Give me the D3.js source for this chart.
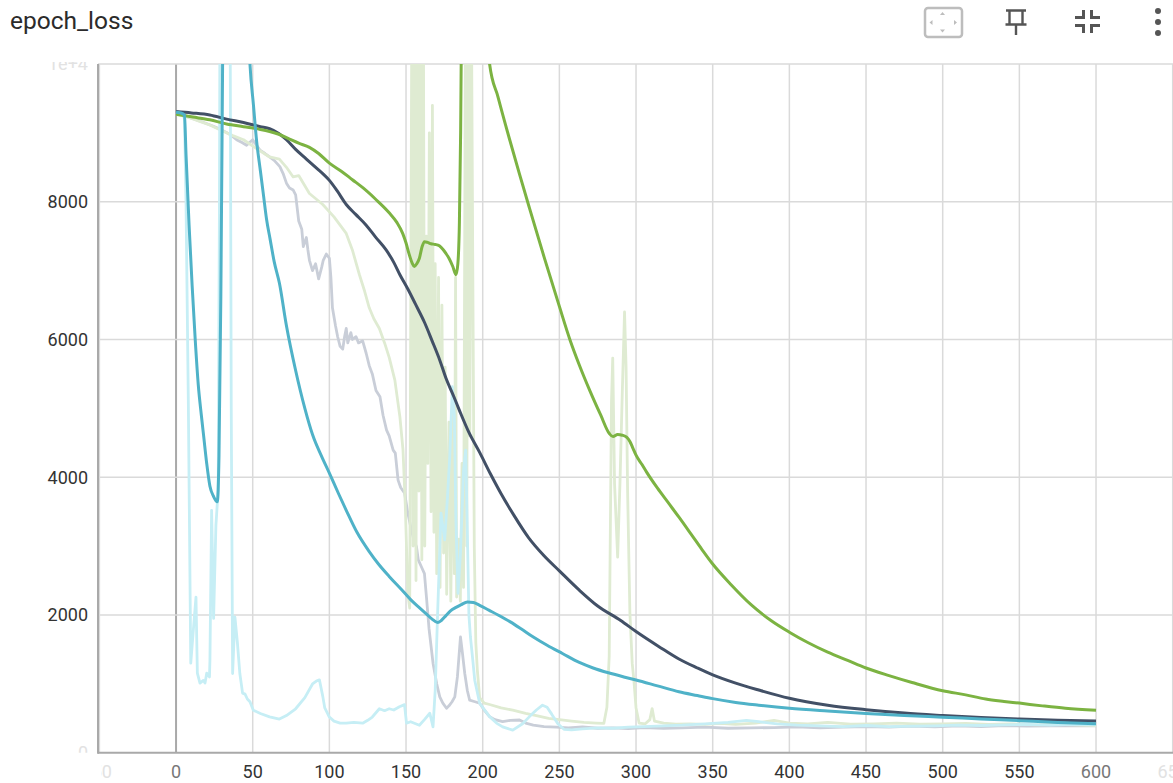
<!DOCTYPE html>
<html>
<head>
<meta charset="utf-8">
<script src="https://cdn.jsdelivr.net/npm/d3@7/dist/d3.min.js"></script>
<style>
  body { margin: 0; background: #fff; font-family: Roboto, "Noto Sans", sans-serif; }
</style>
</head>
<body>
<div id="chart"></div>
<script>
// tick values / labels
var xTicks = [-50, 0, 50, 100, 150, 200, 250, 300, 350, 400, 450, 500, 550, 600, 650];
var yTicks = [0, 2000, 4000, 6000, 8000, 10000];
var yTickLabels = ["0", "2000", "4000", "6000", "8000", "1e+4"];

// smoothed runs  [step, loss]
var navySmooth = [[0,9310],[10,9290],[22,9260],[33,9200],[44,9150],[55,9090],[61,9060],[67,8990],[72,8900],[78,8760],[85,8620],[92,8480],[96,8400],[100,8310],[105,8160],[111,7960],[117,7820],[124,7660],[130,7490],[137,7300],[142,7120],[146,6940],[151,6740],[156,6520],[162,6250],[167,5980],[172,5700],[176,5440],[181,5180],[185,4960],[191,4650],[198,4360],[205,4050],[212,3760],[220,3460],[230,3120],[240,2860],[250,2640],[263,2360],[275,2130],[290,1920],[300,1760],[315,1540],[328,1360],[340,1230],[350,1130],[365,1010],[380,910],[400,790],[425,690],[450,625],[475,575],[500,540],[525,510],[550,488],[575,472],[600,462]];

var tealSmooth = [[0,9300],[3,9290],[5.5,9260],[6.5,8690],[8.5,7660],[10.5,6780],[12.5,6000],[14.5,5340],[16.5,4900],[18,4600],[20,4200],[22.1,3870],[24.5,3720],[26.9,3643],[28,4300],[29.2,6600],[30.3,9800],[31.5,13500],[34,16000],[38,15500],[42,13500],[46,11200],[48.2,10000],[50.5,9400],[52.6,8870],[55,8450],[57,8100],[59,7750],[61.4,7450],[64,7130],[67.4,6820],[72,6200],[78,5550],[84,5000],[89,4620],[95,4300],[100,4060],[106,3760],[111,3520],[118,3200],[126,2920],[132,2740],[139,2560],[147,2370],[154,2200],[159,2100],[163,2020],[167,1940],[170.6,1890],[173,1920],[176,1990],[179,2060],[182.6,2110],[186,2150],[190,2190],[194,2180],[198,2140],[204,2070],[210,2000],[218,1900],[225,1800],[233,1680],[242,1560],[252,1440],[263,1310],[272,1230],[282,1160],[292,1100],[300,1055],[314,970],[328,885],[340,830],[350,785],[365,730],[380,690],[400,645],[425,605],[450,570],[475,540],[500,515],[525,490],[550,465],[575,440],[600,420]];

var greenSmooth = [[0,9270],[11,9230],[22,9190],[33,9130],[44,9090],[55,9050],[61,9020],[67,8980],[74,8910],[80,8850],[87,8790],[93,8700],[100,8560],[108,8440],[115,8320],[122,8200],[130,8040],[139,7840],[144,7700],[147.8,7540],[150,7400],[152,7240],[154,7110],[155.4,7060],[157,7100],[158.7,7180],[160.5,7350],[162,7420],[164,7410],[166.3,7390],[169,7380],[171.7,7360],[174,7310],[176,7250],[178,7180],[180.5,7060],[182.6,6940],[183.8,7100],[184.8,7700],[185.6,9000],[186.3,11000],[188,15000],[192,14500],[198,12000],[204.5,10000],[210,9520],[217.6,8900],[224,8400],[230.6,7900],[240,7200],[250,6480],[257,5990],[263,5630],[270,5250],[277,4900],[282.7,4630],[285,4590],[288,4620],[291,4610],[294,4580],[296,4520],[298,4420],[300,4320],[304,4180],[307,4070],[314,3840],[321,3630],[328,3420],[336,3170],[343,2950],[350,2740],[362,2440],[375,2150],[388,1920],[400,1750],[412,1600],[425,1460],[438,1340],[450,1230],[465,1120],[480,1020],[500,900],[515,840],[528,780],[540,745],[550,720],[565,680],[580,645],[600,617]];

// raw runs  [step, loss]
var navyRaw = [[0,9300],[4,9280],[7,9235],[12,9200],[18,9150],[24,9100],[30,9040],[35,8980],[39.5,8900],[43,8860],[46,8820],[50,8900],[54.7,8750],[58,8700],[61,8650],[64,8600],[67.7,8510],[70,8400],[72,8270],[74,8200],[76.4,8170],[78,8100],[80,7720],[82,7600],[83,7350],[85,7480],[86,7300],[87,7150],[89,7000],[91,7100],[93,6880],[95,7050],[96,7150],[98,7240],[100,7180],[101,6900],[102,6460],[104,6200],[105.4,6040],[107,5900],[108.7,5860],[110,6050],[111,6160],[112,5950],[114,6100],[115,6000],[117.4,6040],[119,5950],[121.7,5980],[124,5800],[126,5620],[128,5500],[130.4,5260],[133,5168],[135,4900],[137.3,4684],[139,4600],[141.6,4394],[143,4350],[144.8,3958],[146.5,3850],[149.1,3768],[151,3500],[153.5,3232],[155,3100],[156.8,2990],[158,2800],[160,2700],[162,2600],[163.3,2263],[165,1800],[167.6,1300],[170,1000],[172,810],[174,720],[176.4,645],[178,680],[180,740],[181.8,810],[183.5,1100],[185.5,1680],[186.5,1500],[188.3,1150],[190,900],[191.5,762],[195,740],[198,718],[201,620],[204.5,524],[208,480],[213,450],[218,470],[224,475],[228,430],[233,400],[240,380],[248,370],[256,360],[265,375],[275,355],[285,360],[295,350],[305,365],[318,355],[330,360],[345,370],[360,355],[375,360],[390,365],[405,375],[420,360],[435,370],[450,380],[465,370],[480,385],[495,375],[510,390],[525,380],[540,395],[555,385],[570,390],[585,395],[600,390]];

var greenRaw = [[0,9270],[7,9235],[15,9170],[22,9115],[30,9030],[37,8960],[44,8900],[52,8780],[61,8650],[67.4,8620],[72,8500],[76.4,8360],[80,8380],[87,8120],[95.7,7960],[103,7780],[111,7540],[115,7300],[119.6,6940],[123,6700],[126,6460],[129,6300],[132.6,6160],[136,5950],[139,5740],[142.7,5410],[146,4877],[148,4400],[149.5,3600],[150.3,2990],[151.2,2300],[152.4,2100],[153,6000],[153.8,11000],[154.6,3000],[155.6,12000],[156.5,2500],[157.5,11500],[158.4,3800],[159.4,12000],[160.3,2800],[161.3,11000],[162.2,3000],[163.2,7500],[164.2,4200],[165.2,9000],[166.3,3500],[167.2,9400],[168.2,3200],[169,7100],[170,2600],[171.2,6900],[172.2,2400],[173.4,6500],[174.5,2900],[175.5,5600],[176.5,2300],[178,4800],[179.2,2200],[180.5,5000],[181.5,2600],[182.3,6900],[183,2260],[184.2,3100],[185.4,2200],[186.5,4200],[187.5,2400],[188.8,11000],[189.6,3000],[190.6,12000],[191.6,4600],[192.6,11000],[193.5,7180],[194.5,3000],[195.5,1600],[196.5,1200],[198,800],[201,720],[204.5,700],[212,650],[219.6,617],[228,570],[235,540],[243,500],[250,480],[258,460],[266,440],[274,430],[279,425],[281,660],[282.5,1400],[284,5100],[284.8,5730],[286,3900],[288,2840],[289.5,3900],[291,5200],[292.5,6400],[293.5,5600],[294.5,3800],[296,2030],[297.5,1300],[298.6,1050],[300,650],[302,430],[306,420],[309,480],[310.5,640],[312,460],[318,430],[326,415],[335,420],[345,410],[355,425],[365,410],[378,430],[390,470],[400,430],[412,420],[425,440],[440,415],[455,420],[470,430],[485,415],[500,420],[515,425],[530,410],[545,420],[560,405],[575,410],[590,400],[600,395]];

var cyanRaw = [[0,9300],[2.5,9290],[4.5,9270],[5.5,9200],[6.5,8000],[8,5120],[9.6,1300],[11,1700],[13,2260],[13.9,1155],[15.6,1010],[17.8,1050],[18.9,1010],[20,1155],[21.8,1100],[22.1,1343],[23.2,3520],[24.5,1950],[26,3300],[27.5,3820],[28.3,8000],[29,14000],[31,30000],[33,25000],[35,13000],[36,5000],[36.9,1150],[38.4,1970],[40,1600],[41.6,1150],[43.4,865],[45,850],[46.5,780],[48.2,740],[50.4,617],[55,570],[61,520],[67.4,488],[72,540],[78,638],[84,800],[89,998],[91.5,1040],[93.5,1058],[95.7,818],[97,650],[100,518],[103,458],[107,430],[111,428],[116,440],[121.7,428],[125,470],[128,518],[132.6,638],[136,610],[139,638],[142,620],[145.7,668],[149,698],[150.3,428],[153,450],[158.7,398],[162,480],[165.5,573],[167.6,375],[169,900],[170.6,2026],[172.8,3478],[175.2,3090],[177,3700],[178.5,4300],[180.2,5314],[181.5,4900],[182.5,3400],[183.9,2314],[185.5,2900],[187.5,4100],[188.9,4394],[190,3200],[191,2000],[192,1680],[193.5,1350],[194.8,1053],[198,718],[204.5,524],[209,430],[213,375],[219.6,327],[226,420],[230.5,524],[235,620],[239,690],[242,660],[245,560],[249,420],[253,340],[258,330],[265,345],[275,360],[285,355],[295,370],[305,380],[318,390],[330,400],[345,420],[360,440],[372,470],[380,450],[392,420],[405,400],[420,390],[435,380],[450,395],[465,380],[480,385],[495,390],[510,400],[525,395],[540,405],[555,410],[570,400],[585,410],[600,405]];

var W = 1173, H = 783;
var plot = {left: 98, right: 1173, top: 64, bottom: 752.7};

var svg = d3.select("#chart").append("svg")
    .attr("width", W)
    .attr("height", H)
    .style("display", "block");

// title
svg.append("text")
    .attr("x", 10)
    .attr("y", 29)
    .style("font-size", "24.5px")
    .style("fill", "#2b2b2b")
    .text("epoch_loss");

// scales
var x = d3.scaleLinear().domain([-50.9, 650.2]).range([plot.left, plot.right]);
var y = d3.scaleLinear().domain([0, 10000]).range([plot.bottom, plot.top]);

var defs = svg.append("defs");
defs.append("clipPath").attr("id", "plotClip")
  .append("rect")
    .attr("x", plot.left).attr("y", plot.top)
    .attr("width", plot.right - plot.left).attr("height", plot.bottom - plot.top);
defs.append("clipPath").attr("id", "xLabClip")
  .append("rect").attr("x", 101).attr("y", plot.bottom).attr("width", W - 101).attr("height", 40);
defs.append("clipPath").attr("id", "yLabClip")
  .append("rect").attr("x", 0).attr("y", 62).attr("width", plot.left).attr("height", plot.bottom - 62);

// grid
var grid = svg.append("g");
grid.selectAll(".vg").data(xTicks).enter().append("line")
    .attr("x1", function(d) { return x(d); })
    .attr("x2", function(d) { return x(d); })
    .attr("y1", plot.top).attr("y2", plot.bottom)
    .attr("stroke", function(d) { return d == 0 ? "#a9a9a9" : "#dadada"; })
    .attr("stroke-width", function(d) { return d == 0 ? 2 : 1.5; });
grid.selectAll(".hg").data(yTicks.filter(function(d) { return d > 0; })).enter().append("line")
    .attr("x1", plot.left).attr("x2", plot.right)
    .attr("y1", function(d) { return y(d); })
    .attr("y2", function(d) { return y(d); })
    .attr("stroke", "#dadada")
    .attr("stroke-width", 1.5);

// axis lines
svg.append("line")
    .attr("x1", plot.left).attr("x2", plot.left)
    .attr("y1", plot.top).attr("y2", plot.bottom + 1)
    .attr("stroke", "#a9a9a9").attr("stroke-width", 2);
svg.append("line")
    .attr("x1", plot.left).attr("x2", plot.right)
    .attr("y1", plot.bottom).attr("y2", plot.bottom)
    .attr("stroke", "#a9a9a9").attr("stroke-width", 2);

// tick labels
function xLabColor(d) {
  if (d < 0 || d > 600) return "#e2e2e2";
  if (d == 0 || d == 600) return "#777";
  return "#333";
}
svg.append("g").attr("clip-path", "url(#xLabClip)")
  .selectAll("text").data(xTicks).enter().append("text")
    .attr("x", function(d) { return x(d); })
    .attr("y", 778)
    .attr("text-anchor", "middle")
    .style("font-size", "18px")
    .style("fill", xLabColor)
    .text(function(d) { return d; });

svg.append("g").attr("clip-path", "url(#yLabClip)")
  .selectAll("text").data(yTicks).enter().append("text")
    .attr("x", 88)
    .attr("y", function(d) { return y(d); })
    .attr("dy", "0.35em")
    .attr("text-anchor", "end")
    .style("font-size", "18px")
    .style("fill", function(d) { return (d == 0 || d == 10000) ? "#e2e2e2" : "#333"; })
    .text(function(d, i) { return yTickLabels[i]; });

// lines
var rawLine = d3.line()
    .x(function(d) { return x(d[0]); })
    .y(function(d) { return y(d[1]); });
var smoothLine = d3.line()
    .curve(d3.curveMonotoneX)
    .x(function(d) { return x(d[0]); })
    .y(function(d) { return y(d[1]); });

var lines = svg.append("g").attr("clip-path", "url(#plotClip)");

var raws = [
  {data: navyRaw, color: "#c9ced8"},
  {data: greenRaw, color: "#dfebd2"},
  {data: cyanRaw, color: "#c6eef5"}
];
raws.forEach(function(r) {
  lines.append("path")
      .datum(r.data)
      .attr("d", rawLine)
      .attr("fill", "none")
      .attr("stroke", r.color)
      .attr("stroke-width", 2.8)
      .attr("stroke-linejoin", "round");
});

var smooths = [
  {data: navySmooth, color: "#425066"},
  {data: greenSmooth, color: "#7cb342"},
  {data: tealSmooth, color: "#4fb2c8"}
];
smooths.forEach(function(s) {
  lines.append("path")
      .datum(s.data)
      .attr("d", smoothLine)
      .attr("fill", "none")
      .attr("stroke", s.color)
      .attr("stroke-width", 3)
      .attr("stroke-linejoin", "round");
});

// toolbar icons
var icons = svg.append("g");
icons.append("rect")
    .attr("x", 925).attr("y", 8).attr("width", 37).attr("height", 29).attr("rx", 3)
    .attr("fill", "none").attr("stroke", "#bdbdbd").attr("stroke-width", 2.5);
var tri = [[942.5, 13.5, 0], [942.5, 31, 180], [931, 22.5, 270], [955.5, 22.5, 90]];
icons.selectAll(".tri").data(tri).enter().append("path")
    .attr("d", "M-2.5,1.5L0,-1.5L2.5,1.5Z")
    .attr("transform", function(d) { return "translate(" + d[0] + "," + d[1] + ") rotate(" + d[2] + ")"; })
    .attr("fill", "#bdbdbd");

// pin
icons.append("path")
    .attr("d", "M1006,10.5H1026 M1009.5,11V24 M1022.5,11V24 M1005.5,24.5H1026.5 M1016,24.5V35")
    .attr("fill", "none").attr("stroke", "#555").attr("stroke-width", 2.4);

// collapse
icons.append("path")
    .attr("d", "M1075,17.5H1083.5V10 M1100,17.5H1091.5V10 M1075,25.5H1083.5V33 M1100,25.5H1091.5V33")
    .attr("fill", "none").attr("stroke", "#555").attr("stroke-width", 3);

// kebab
icons.selectAll(".dot").data([11, 22, 33]).enter().append("circle")
    .attr("cx", 1158).attr("cy", function(d) { return d; }).attr("r", 3)
    .attr("fill", "#555");
</script>
</body>
</html>
